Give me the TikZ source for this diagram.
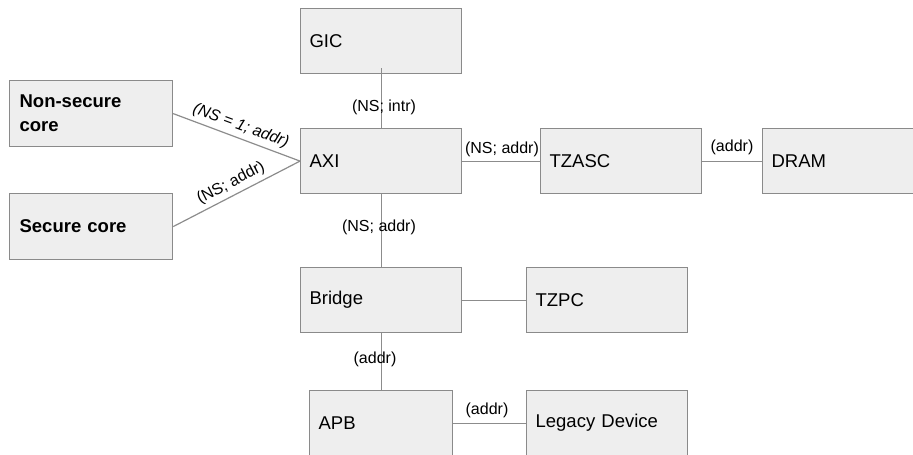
\documentclass[tikz,border=0pt]{standalone}
\usepackage{fontspec}
\setmainfont{Liberation Sans}
\definecolor{boxfill}{HTML}{EEEEEE}
\definecolor{boxline}{HTML}{8A8A8A}
\definecolor{wire}{HTML}{8C8C8C}
\begin{document}
\begin{tikzpicture}[x=1pt,y=-1pt,
  box/.style={draw=boxline, line width=1.2pt, fill=boxfill, anchor=north west,
    minimum width=161pt, minimum height=65pt, text width=143pt, inner xsep=9pt,
    align=left, font=\fontsize{18.5}{24}\selectfont},
  wirestyle/.style={draw=wire, line width=1.2pt},
  lbl/.style={font=\fontsize{16}{19}\selectfont, inner sep=1pt}]
\path[use as bounding box] (0,0) rectangle (913,455);
\clip (0,0) rectangle (913,455);
\node[box] (gic) at (300,8) {GIC};
\node[box, minimum width=163pt, minimum height=66pt] (nsc) at (9,80) {\bfseries Non-secure\\ core};
\node[box, minimum width=163pt, minimum height=66pt] (sc) at (9,193) {\bfseries Secure core};
\node[box] (axi) at (300,128) {AXI};
\node[box] (tzasc) at (540,128) {TZASC};
\node[box] (dram) at (762,128) {DRAM};
\node[box] (bridge) at (300,267) {Bridge};
\node[box] (tzpc) at (526,267) {TZPC};
\node[box, minimum width=143pt, text width=125pt] (apb) at (309,390) {APB};
\node[box] (legacy) at (526,390) {Legacy Device};

\draw[wirestyle] ([yshift=6pt]gic.south) -- (axi.north);
\draw[wirestyle] (nsc.east) -- node[lbl, sloped, above, yshift=3pt, font=\fontsize{16}{19}\selectfont\itshape] {(NS = 1; addr)} (axi.west);
\draw[wirestyle] (sc.east) -- node[lbl, sloped, above, yshift=3pt] {(NS; addr)} (axi.west);
\draw[wirestyle] (axi.east) -- (tzasc.west);
\draw[wirestyle] (tzasc.east) -- (dram.west);
\draw[wirestyle] (axi.south) -- (bridge.north);
\draw[wirestyle] (bridge.east) -- (tzpc.west);
\draw[wirestyle] (bridge.south) -- (apb.north);
\draw[wirestyle] (apb.east) -- (legacy.west);

\node[lbl] (l1) at (384,107) {(NS; intr)};
\node[lbl] (l2) at (502,149) {(NS; addr)};
\node[lbl] (l3) at (732,147) {(addr)};
\node[lbl] (l4) at (379,227) {(NS; addr)};
\node[lbl] (l5) at (375,359) {(addr)};
\node[lbl] (l6) at (487,410) {(addr)};
\end{tikzpicture}
\end{document}
